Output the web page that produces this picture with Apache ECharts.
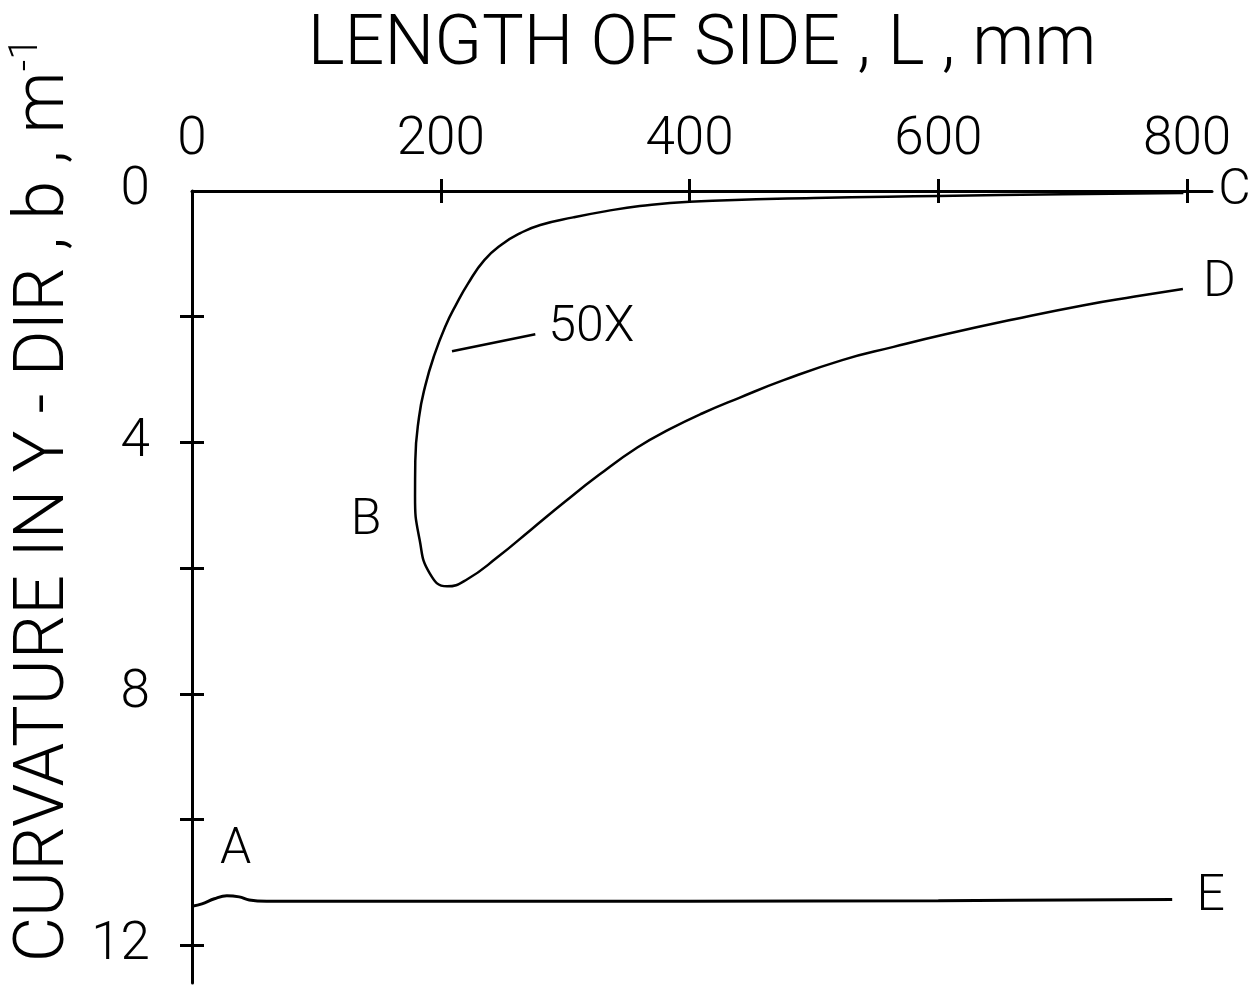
<!DOCTYPE html>
<html><head><meta charset="utf-8">
<script src="https://cdn.jsdelivr.net/npm/echarts@6/dist/echarts.min.js"></script>
<style>html,body{margin:0;padding:0;background:#fff}#c{width:1255px;height:990px}</style>
</head><body><div id="c"></div>
<script>
// ---- data ----
const xTickValues = [200, 400, 600, 800];
const xLabelValues = [0, 200, 400, 600, 800];
const yTickValues = [2, 4, 6, 8, 10, 12];
const yLabelValues = [0, 4, 8, 12];

// curve B-C-D (50X), traced in drawing order from C around B to D: [L mm, b m^-1]
const curveBCD = [
  [797, 0.03], [700, 0.05], [600, 0.08], [500, 0.11], [400, 0.17], [360, 0.24],
  [333, 0.32], [306.5, 0.42], [280, 0.54], [264, 0.67], [249, 0.85], [235, 1.10],
  [222, 1.47], [212, 1.82], [204, 2.14], [195, 2.60], [187.5, 3.1], [182.5, 3.6],
  [179.5, 4.3], [179.3, 4.86], [183, 5.55], [191, 6.08], [205, 6.29], [221, 6.18],
  [246, 5.82], [273, 5.38], [300, 4.94], [327, 4.52], [358, 4.08], [384, 3.79],
  [410, 3.54], [440, 3.29], [475.6, 3.01], [522.7, 2.69], [564, 2.48], [605.7, 2.28],
  [661, 2.04], [716, 1.82], [758, 1.68], [796.6, 1.56]
];
// curve A-E
const curveAE = [
  [0, 11.38], [8, 11.34], [18, 11.26], [28, 11.21], [38, 11.23], [46, 11.28],
  [60, 11.30], [200, 11.30], [400, 11.30], [600, 11.29], [788, 11.27]
];
// leader line for the "50X" note
const leader50X = [[209, 2.55], [276, 2.28]];
// text notes anchored in data units
const notes = [
  { text: 'A', x: 35, y: 10.49 },
  { text: 'B', x: 140, y: 5.26 },
  { text: 'C', x: 838, y: 0.0 },
  { text: 'D', x: 826, y: 1.47 },
  { text: 'E', x: 819, y: 11.24 },
  { text: '50X', x: 321, y: 2.19 }
];

const FONT = 'Roboto, "Liberation Sans", Arial, sans-serif';
const FW = 300;
const chart = echarts.init(document.getElementById('c'), null, { renderer: 'canvas' });

const xBase = { type: 'value', position: 'top', min: 0, max: 820, splitLine: { show: false } };
const yBase = { type: 'value', position: 'left', inverse: true, min: 0, max: 12.6, splitLine: { show: false } };
const tickStyle = { color: '#000', width: 3 };

chart.setOption({
  backgroundColor: '#fff',
  animation: false,
  grid: { left: 192, top: 191, width: 1020, height: 792, containLabel: false },
  xAxis: [
    Object.assign({}, xBase, {
      axisLine: { show: true, onZero: false, lineStyle: { color: '#000', width: 3 } },
      axisTick: { show: true, inside: true, length: 12, lineStyle: tickStyle, customValues: xTickValues },
      axisLabel: { show: true, customValues: xLabelValues, color: '#000', fontSize: 53, fontWeight: FW, fontFamily: FONT, margin: 24 },
      name: 'LENGTH OF SIDE , L , mm', nameLocation: 'middle', nameGap: 110,
      nameTextStyle: { color: '#000', fontSize: 70, fontWeight: FW, fontFamily: FONT }
    }),
    Object.assign({}, xBase, {
      axisLine: { show: true, onZero: false, lineStyle: { color: 'rgba(0,0,0,0)', width: 0 } },
      axisTick: { show: true, inside: false, length: 12, lineStyle: tickStyle, customValues: xTickValues },
      axisLabel: { show: false }
    })
  ],
  yAxis: [
    Object.assign({}, yBase, {
      axisLine: { show: true, onZero: false, lineStyle: { color: '#000', width: 3 } },
      axisTick: { show: true, inside: true, length: 12, lineStyle: tickStyle, customValues: yTickValues },
      axisLabel: { show: true, customValues: yLabelValues, color: '#000', fontSize: 53, fontWeight: FW, fontFamily: FONT, margin: 42 }
    }),
    Object.assign({}, yBase, {
      axisLine: { show: true, onZero: false, lineStyle: { color: 'rgba(0,0,0,0)', width: 0 } },
      axisTick: { show: true, inside: false, length: 12, lineStyle: tickStyle, customValues: yTickValues },
      axisLabel: { show: false }
    })
  ],
  graphic: [{
    type: 'text', x: 45, y: 500, rotation: Math.PI / 2,
    style: {
      text: '{t|CURVATURE IN Y - DIR , b , m}{s|-1}',
      align: 'center', verticalAlign: 'middle',
      rich: {
        t: { fontSize: 70, fontWeight: FW, fontFamily: FONT, fill: '#000', lineHeight: 76 },
        s: { fontSize: 40, fontWeight: FW, fontFamily: FONT, fill: '#000', lineHeight: 76, verticalAlign: 'top' }
      }
    }
  }],
  series: [
    { type: 'line', data: curveBCD, smooth: 0.5, symbol: 'none', clip: false,
      lineStyle: { color: '#000', width: 2.5 } },
    { type: 'line', data: curveAE, smooth: 0.4, symbol: 'none', clip: false,
      lineStyle: { color: '#000', width: 3 } },
    { type: 'line', data: leader50X, symbol: 'none', clip: false,
      lineStyle: { color: '#000', width: 2.5 } },
    { type: 'scatter', symbolSize: 0, clip: false,
      itemStyle: { opacity: 1 },
      data: notes.map(n => ({ value: [n.x, n.y], name: n.text })),
      label: { show: true, position: 'inside', formatter: p => p.name, color: '#000', opacity: 1,
               fontSize: 50, fontWeight: FW, fontFamily: FONT } }
  ]
});
</script></body></html>
